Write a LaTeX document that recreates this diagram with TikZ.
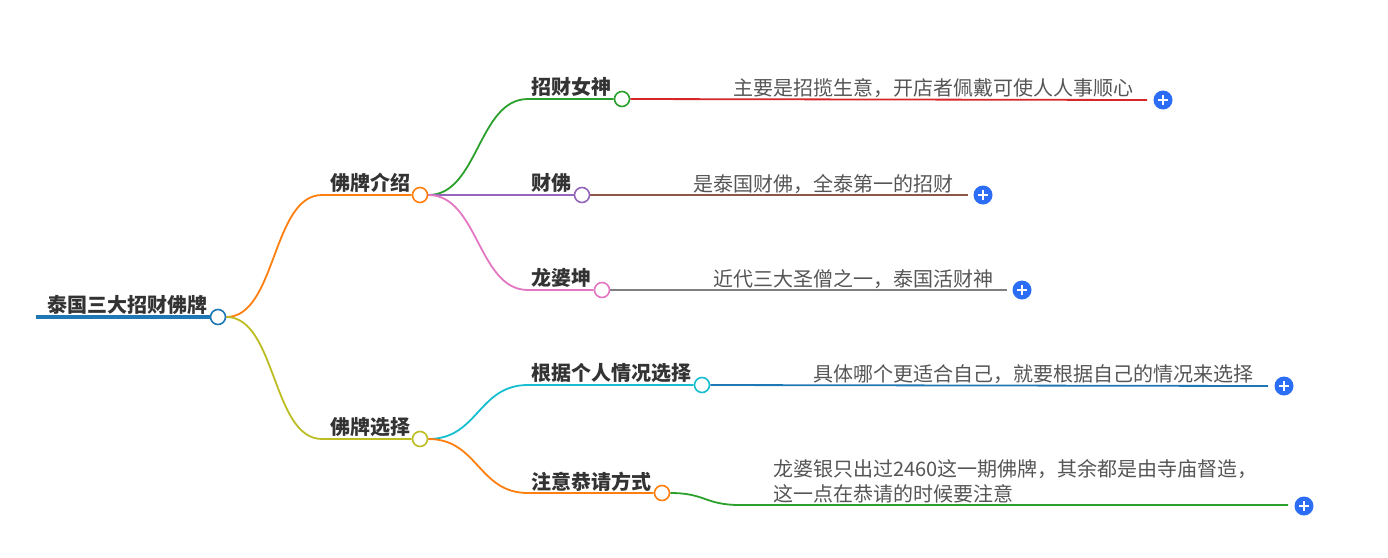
\documentclass[tikz,border=0pt]{standalone}
\usepackage{fontspec}
\setmainfont{Noto Sans CJK SC}
\usetikzlibrary{backgrounds}
\definecolor{cRoot}{HTML}{1F77B4}
\definecolor{cOrange}{HTML}{FF7F0E}
\definecolor{cOlive}{HTML}{BCBD22}
\definecolor{cGreen}{HTML}{2CA02C}
\definecolor{cPurple}{HTML}{9467BD}
\definecolor{cPink}{HTML}{E377C2}
\definecolor{cCyan}{HTML}{17BECF}
\definecolor{cRed}{HTML}{D62728}
\definecolor{cBrown}{HTML}{8C564B}
\definecolor{cGray}{HTML}{7F7F7F}
\definecolor{cPlus}{HTML}{2B6EF5}
\definecolor{tx}{HTML}{333333}
\definecolor{lt}{HTML}{555555}
\begin{document}
\begin{tikzpicture}[x=1pt,y=-1pt,
  dot/.style={circle,draw=#1,fill=white,line width=1.6pt,minimum size=15pt,inner sep=0pt},
  br/.style={draw=#1,line width=1.8pt},
  lbl/.style={anchor=base west,inner sep=0pt,font=\bfseries\fontsize{20}{24}\selectfont,text=tx},
  leaf/.style={anchor=base west,inner sep=0pt,font=\fontsize{20}{25}\selectfont,text=lt},
  plusbtn/.style={circle,fill=cPlus,minimum size=19pt,inner sep=0pt,
    path picture={\draw[white,line width=1.6pt]
      ([xshift=-5pt]path picture bounding box.center) -- ([xshift=5pt]path picture bounding box.center)
      ([yshift=-5pt]path picture bounding box.center) -- ([yshift=5pt]path picture bounding box.center);}}]
\useasboundingbox (0,0) rectangle (1388,557);

% circles
\node[dot=cRoot] (root) at (218,317) {};
\node[dot=cOrange] (jieshao) at (420,195) {};
\node[dot=cOlive] (xuanze) at (420,439) {};
\node[dot=cGreen] (nvshen) at (622,99) {};
\node[dot=cPurple] (caifo) at (582,195) {};
\node[dot=cPink] (kun) at (602,290) {};
\node[dot=cCyan] (geren) at (702,385) {};
\node[dot=cOrange] (zhuyi) at (662,493) {};

% plus buttons
\node[plusbtn] (p1) at (1163,100) {};
\node[plusbtn] (p2) at (983,195) {};
\node[plusbtn] (p3) at (1022,290) {};
\node[plusbtn] (p4) at (1284,386) {};
\node[plusbtn] (p5) at (1304,506) {};

% coordinates
\coordinate (rs) at (36,317);
\coordinate (a1) at (322,195);
\coordinate (a2) at (322,439);
\coordinate (b1) at (528,99);
\coordinate (b3) at (528,290);
\coordinate (b4) at (528,385);
\coordinate (b5) at (528,493);
\coordinate (e1) at (1147,100);
\coordinate (e2) at (968,195);
\coordinate (e3) at (1007,290);
\coordinate (e4) at (1268,386);
\coordinate (f5) at (740,505);
\coordinate (e5) at (1288,505);

% labels
\node[lbl] (tRoot) at (47,312) {泰国三大招财佛牌};
\node[lbl] (tJ) at (330,190) {佛牌介绍};
\node[lbl] (tX) at (330,434) {佛牌选择};
\node[lbl] (tN) at (531,94) {招财女神};
\node[lbl] (tC) at (531,190) {财佛};
\node[lbl] (tK) at (531,285) {龙婆坤};
\node[lbl] (tG) at (531,380) {根据个人情况选择};
\node[lbl] (tZ) at (531,489) {注意恭请方式};

\node[leaf] (l1) at (733,95) {主要是招揽生意，开店者佩戴可使人人事顺心};
\node[leaf] (l2) at (693,191) {是泰国财佛，全泰第一的招财};
\node[leaf] (l3) at (713,286) {近代三大圣僧之一，泰国活财神};
\node[leaf] (l4) at (813,381) {具体哪个更适合自己，就要根据自己的情况来选择};
\node[leaf,align=left] (l5) at (773,501) {龙婆银只出过2460这一期佛牌，其余都是由寺庙督造，\\这一点在恭请的时候要注意};

\begin{scope}[on background layer]
  \draw[cRoot,line width=4.5pt] (rs) -- (root);
  \draw[br=cOrange] (root.east) .. controls +(50,0) and +(-50,0) .. (a1) -- (jieshao);
  \draw[br=cOlive] (root.east) .. controls +(50,0) and +(-50,0) .. (a2) -- (xuanze);
  \draw[br=cGreen] (jieshao.east) .. controls +(50,0) and +(-50,0) .. (b1) -- (nvshen);
  \draw[br=cPurple] (jieshao) -- (caifo);
  \draw[br=cPink] (jieshao.east) .. controls +(50,0) and +(-50,0) .. (b3) -- (kun);
  \draw[br=cCyan] (xuanze.east) .. controls +(50,0) and +(-50,0) .. (b4) -- (geren);
  \draw[br=cOrange] (xuanze.east) .. controls +(50,0) and +(-50,0) .. (b5) -- (zhuyi);
  \draw[br=cRed] (nvshen) -- (e1);
  \draw[br=cBrown] (caifo) -- (e2);
  \draw[br=cGray] (kun) -- (e3);
  \draw[br=cRoot] (geren) -- (e4);
  \draw[br=cGreen] (zhuyi.east) .. controls +(35,0) and +(-35,0) .. (f5) -- (e5);
\end{scope}
\end{tikzpicture}
\end{document}
